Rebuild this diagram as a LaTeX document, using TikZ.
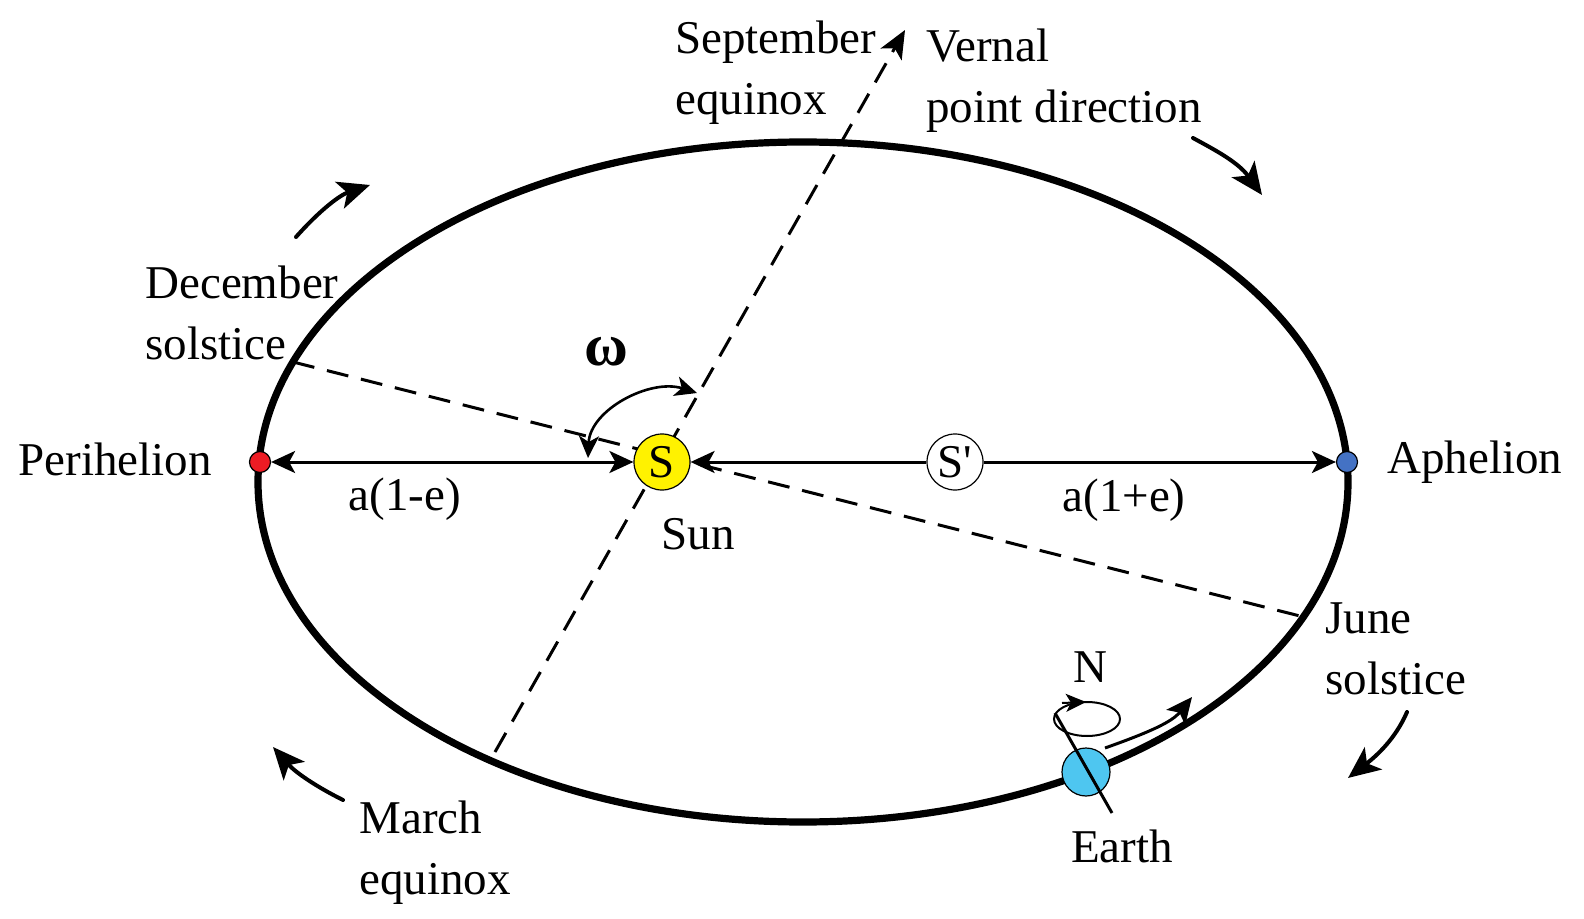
\documentclass[tikz,border=0pt]{standalone}
\usepackage{fontspec}
\setmainfont{Liberation Serif}
\usepackage{tikz}
\usetikzlibrary{arrows.meta, positioning, shapes}
\definecolor{perired}{RGB}{237,28,36}
\definecolor{aphblue}{RGB}{68,114,196}
\definecolor{sunyellow}{RGB}{255,242,0}
\definecolor{earthblue}{RGB}{78,198,240}
\tikzstyle{orbit} = [draw, line width=3.6pt]
\tikzstyle{txt} = [font=\fontsize{23.5}{30.5}\selectfont, inner sep=0pt, align=left]
\tikzstyle{body} = [circle, draw=black, line width=0.6pt, inner sep=0pt, minimum size=28pt, font=\fontsize{23.5}{30.5}\selectfont]
\tikzstyle{dot} = [circle, draw=black, line width=0.6pt, inner sep=0pt, minimum size=10.5pt]
\tikzstyle{line} = [draw, line width=1.5pt, {Stealth[length=12pt,width=11pt,inset=3pt]}-{Stealth[length=12pt,width=11pt,inset=3pt]}]
\tikzstyle{arrow} = [draw, line width=1.5pt, -{Stealth[length=12pt,width=11pt,inset=3pt]}]
\tikzstyle{turn} = [draw, line width=2pt, line cap=round, -{Stealth[length=16pt,width=14pt,inset=4pt]}]
\tikzstyle{dashline} = [draw, line width=1.5pt, dash pattern=on 11pt off 6.5pt]

\begin{document}
\begin{tikzpicture}[x=0.5pt, y=-0.5pt]
        \useasboundingbox (0,0) rectangle (1584,919);

        % orbit
        \path [orbit] (803,482) ellipse [x radius=545, y radius=340];

        % equinox and solstice lines
        \coordinate (mar) at (495,752);
        \coordinate (sep) at (905,30);
        \coordinate (dec) at (293,362);
        \coordinate (jun) at (1300,616);
        \path [dashline, -{Stealth[length=14pt,width=12pt,inset=3.5pt]}] (mar) -- (sep);
        \path [dashline] (dec) -- (jun);

        \node (peri) [dot, fill=perired] at (260,462) {};
        \node (aph) [dot, fill=aphblue] at (1347,462) {};
        \node (sun) [body, fill=sunyellow] at (662,462) {S};
        \node (sp) [body, fill=white] at (955,462) {S\textquotesingle};

        \node (perilab) [txt, anchor=east] at (212,459) {Perihelion};
        \node (aphlab) [txt, anchor=west] at (1387,462) {Aphelion};
        \node (ae1) [txt] at (405,499) {a(1-e)};
        \node (ae2) [txt] at (1124,500) {a(1+e)};
        \node (sunlab) [txt] at (698,534) {Sun};
        \node (omega) [txt, font=\fontsize{30}{30}\selectfont\bfseries] at (606,352) {ω};
        \node (declab) [txt, anchor=west] at (145,313) {December\\solstice};
        \node (seplab) [txt, anchor=west] at (675,73) {September\\equinox};
        \node (verlab) [txt, anchor=west] at (926,81) {Vernal\\point direction};
        \node (junlab) [txt, anchor=west] at (1325,649) {June\\solstice};
        \node (marlab) [txt, anchor=west] at (359,853) {March\\equinox};

        % earth
        \coordinate (np) at (1055,713);
        \coordinate (spole) at (1112,813);
        \node (earth) [body, fill=earthblue, minimum size=24pt] at (1086,772) {};
        \path [draw, line width=1.5pt] (np) -- (spole);
        \path [draw, line width=1pt] (1087,719) ellipse [x radius=33, y radius=17];
        \coordinate (spin1) at (1062,703);
        \coordinate (spin2) at (1086,702);
        \path [draw, line width=1pt, -{Stealth[length=10pt,width=9pt,inset=2.5pt]}] (spin1) -- (spin2);
        \node (nlab) [txt] at (1090,667) {N};
        \node (earthlab) [txt] at (1122,846) {Earth};
        \coordinate (go1) at (1105,748);
        \coordinate (go2) at (1192,697);

        % omega angle
        \coordinate (om1) at (588,458);
        \coordinate (om2) at (697,393);

        % orbit direction
        \coordinate (t1a) at (296,237);
        \coordinate (t1b) at (370,185);
        \coordinate (t2a) at (1193,138);
        \coordinate (t2b) at (1262,195);
        \coordinate (t3a) at (1407,712);
        \coordinate (t3b) at (1348,778);
        \coordinate (t4a) at (343,800);
        \coordinate (t4b) at (273,747);

        % Draw edges
        \path [line] (peri) -- (sun);
        \path [draw, line width=1.5pt, {Stealth[length=12pt,width=11pt,inset=3pt]}-] (sun) -- (sp);
        \path [arrow] (sp) -- (aph);
        \path [draw, line width=1.3pt, {Stealth[length=11pt,width=10pt,inset=3pt]}-{Stealth[length=11pt,width=10pt,inset=3pt]}] (om1) .. controls (590,410) and (650,378) .. (om2);
        \path [draw, line width=1.5pt, -{Stealth[length=13pt,width=12pt,inset=3pt]}] (go1) .. controls (1150,732) and (1172,722) .. (go2);
        \path [turn] (t1a) .. controls (320,210) and (340,195) .. (t1b);
        \path [turn] (t2a) .. controls (1215,150) and (1238,162) .. (t2b);
        \path [turn] (t3a) .. controls (1395,740) and (1375,757) .. (t3b);
        \path [turn] (t4a) .. controls (315,786) and (295,772) .. (t4b);

\end{tikzpicture}
\end{document}
